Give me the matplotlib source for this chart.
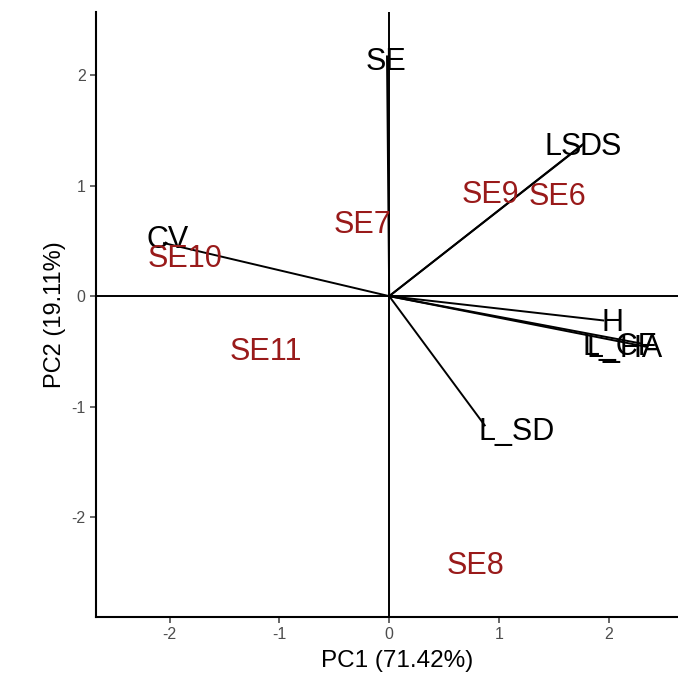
import matplotlib.pyplot as plt

# variable loadings (arrow end points)
var_names = ["SE", "LS", "DS", "CV", "H", "L_HA", "L_CF", "L_SD"]
var_x = [-0.02, 1.75, 1.77, -2.05, 1.95, 2.35, 2.30, 0.87]
var_y = [2.17, 1.36, 1.38, 0.48, -0.22, -0.46, -0.43, -1.17]
# where the variable labels sit
lab_x = [-0.03, 1.58, 1.93, -2.02, 2.03, 2.14, 2.10, 1.16]
lab_y = [2.12, 1.35, 1.35, 0.51, -0.24, -0.48, -0.46, -1.23]

# individuals
ind_names = ["SE9", "SE6", "SE7", "SE10", "SE11", "SE8"]
ind_x = [0.92, 1.53, -0.24, -1.86, -1.12, 0.79]
ind_y = [0.92, 0.90, 0.64, 0.34, -0.51, -2.44]

xticks = [-2, -1, 0, 1, 2]
yticks = [-2, -1, 0, 1, 2]

plt.rcParams['font.family'] = ['Liberation Sans', 'DejaVu Sans']
plt.rcParams['axes.unicode_minus'] = False

fig = plt.figure(figsize=(6.78, 6.80), dpi=100)
ax = fig.add_axes([0.1416, 0.0926, 0.8584, 0.8894])

ax.axhline(0, color='black', lw=1.4, zorder=1)
ax.axvline(0, color='black', lw=1.4, zorder=1)

for x, y in zip(var_x, var_y):
    ax.plot([0, x], [0, y], color='black', lw=1.4, zorder=2)

for name, x, y in zip(var_names, lab_x, lab_y):
    ax.text(x, y, name, fontsize=22, color='black', ha='center', va='center', zorder=3)

for name, x, y in zip(ind_names, ind_x, ind_y):
    ax.text(x, y, name, fontsize=22, color='#991A1A', ha='center', va='center', zorder=3)

ax.set_xlim(-2.67, 2.63)
ax.set_ylim(-2.905, 2.57)
ax.set_xticks(xticks)
ax.set_yticks(yticks)
ax.tick_params(colors='#4D4D4D', labelsize=11.5, length=4, width=1.2)
ax.spines['top'].set_visible(False)
ax.spines['right'].set_visible(False)
ax.spines['left'].set_linewidth(1.5)
ax.spines['bottom'].set_linewidth(1.5)

ax.set_xlabel("PC1 (71.42%)", fontsize=17.5, labelpad=4)
ax.set_ylabel("PC2 (19.11%)", fontsize=17, labelpad=4)
ax.xaxis.set_label_coords(0.517, -0.055)

fig.savefig("out.png", dpi=100)
